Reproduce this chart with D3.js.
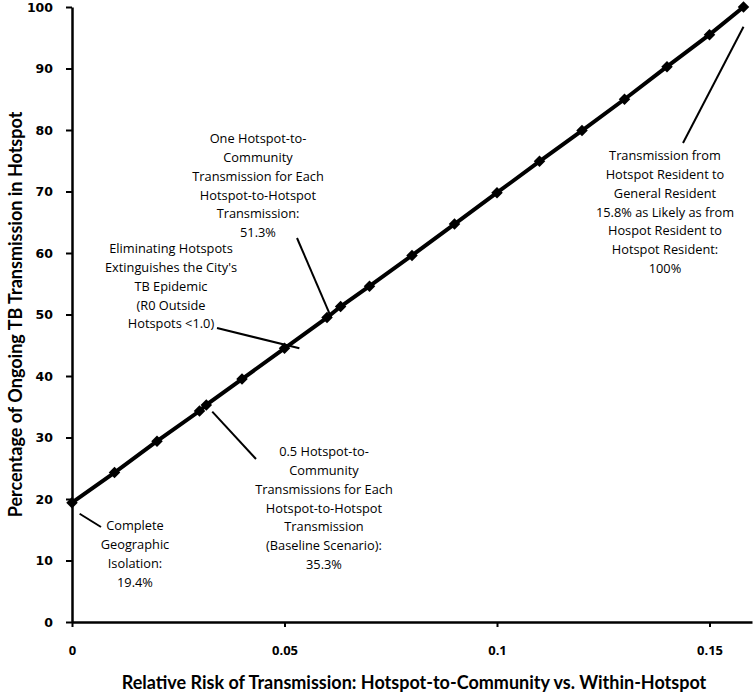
<!DOCTYPE html>
<html>
<head>
<meta charset="utf-8">
<script src="https://cdn.jsdelivr.net/npm/d3@7"></script>
<style>
  html, body { margin: 0; padding: 0; background: #fff; }
  svg { display: block; }
</style>
</head>
<body>
<svg id="chart" width="755" height="694"></svg>
<script>
// ---- data ----
const relRisk = [0, 0.01, 0.02, 0.03, 0.0316, 0.04, 0.05, 0.06, 0.0632, 0.07, 0.08, 0.09, 0.10, 0.11, 0.12, 0.13, 0.14, 0.15, 0.158];
const pctHotspot = [19.4, 24.3, 29.4, 34.3, 35.3, 39.5, 44.5, 49.5, 51.3, 54.6, 59.6, 64.7, 69.8, 74.9, 79.9, 85.0, 90.3, 95.5, 100];
const xTicks = [0, 0.05, 0.1, 0.15];
const xTickLabels = ["0", "0.05", "0.1", "0.15"];
const yTicks = [0, 10, 20, 30, 40, 50, 60, 70, 80, 90, 100];
const xTitle = "Relative Risk of Transmission: Hotspot-to-Community vs. Within-Hotspot";
const yTitle = "Percentage of Ongoing TB Transmission in Hotspot";

const annoLines = [
  ["One Hotspot-to-", "Community", "Transmission for Each", "Hotspot-to-Hotspot", "Transmission:", "51.3%"],
  ["Eliminating Hotspots", "Extinguishes the City's", "TB Epidemic", "(R0  Outside", "Hotspots <1.0)"],
  ["0.5 Hotspot-to-", "Community", "Transmissions for Each", "Hotspot-to-Hotspot", "Transmission", "(Baseline Scenario):", "35.3%"],
  ["Complete", "Geographic", "Isolation:", "19.4%"],
  ["Transmission from", "Hotspot Resident to", "General Resident", "15.8% as Likely as from", "Hospot Resident to", "Hotspot Resident:", "100%"]
];

// ---- layout ----
const svg = d3.select("#chart");
const x = d3.scaleLinear().domain([0, 0.16]).range([72, 752]);
const y = d3.scaleLinear().domain([0, 100]).range([622, 7]);

// y axis
const yAxis = svg.append("g").attr("transform", `translate(${x(0)},0)`)
  .call(d3.axisLeft(y).tickValues(yTicks).tickSize(6).tickSizeOuter(0).tickPadding(13));
yAxis.select(".domain").attr("stroke", "#000").attr("stroke-width", 2.5);
yAxis.selectAll(".tick line").attr("stroke", "#000").attr("stroke-width", 2);
yAxis.selectAll(".tick text").attr("font-family", "'DejaVu Sans', sans-serif")
  .attr("font-weight", "bold").attr("font-size", 12.5).attr("fill", "#000");

// x axis
const xAxis = svg.append("g").attr("transform", `translate(0,${y(0)})`)
  .call(d3.axisBottom(x).tickValues(xTicks).tickFormat((d, i) => xTickLabels[i])
    .tickSize(5).tickSizeOuter(0).tickPadding(19));
xAxis.select(".domain").attr("stroke", "#000").attr("stroke-width", 2.5);
xAxis.selectAll(".tick line").attr("stroke", "#000").attr("stroke-width", 2);
xAxis.selectAll(".tick text").attr("font-family", "'Open Sans', sans-serif")
  .attr("font-weight", "bold").attr("font-size", 13).attr("fill", "#000");

// titles
svg.append("text").attr("x", 414).attr("y", 689).attr("text-anchor", "middle")
  .attr("font-family", "Lato, sans-serif").attr("font-weight", "bold").attr("font-size", 18)
  .attr("fill", "#000").text(xTitle);
svg.append("text").attr("transform", `translate(22,${(y(0) + y(100)) / 2}) rotate(-90)`)
  .attr("text-anchor", "middle")
  .attr("font-family", "Lato, sans-serif").attr("font-weight", "bold").attr("font-size", 18)
  .attr("fill", "#000").text(yTitle);

// line
const pts = relRisk.map((r, i) => [r, pctHotspot[i]]);
svg.append("path").datum(pts)
  .attr("fill", "none").attr("stroke", "#000").attr("stroke-width", 4)
  .attr("d", d3.line().x(d => x(d[0])).y(d => y(d[1])));

// diamond markers
const diamond = d3.symbol().type(d3.symbolSquare).size(66);
svg.append("g").selectAll("path").data(pts).join("path")
  .attr("transform", d => `translate(${x(d[0])},${y(d[1])}) rotate(45)`)
  .attr("d", diamond).attr("fill", "#000");

// annotations
const annoPos = [
  { cx: 258, top: 140 },
  { cx: 171, top: 250 },
  { cx: 324, top: 453 },
  { cx: 135, top: 527 },
  { cx: 665, top: 157 }
];
const lineH = 18.7;
annoLines.forEach((lines, k) => {
  const t = svg.append("text").attr("text-anchor", "middle")
    .attr("font-family", "'Open Sans', sans-serif").attr("font-size", 12.8).attr("fill", "#000");
  lines.forEach((s, j) => {
    t.append("tspan").attr("x", annoPos[k].cx).attr("y", annoPos[k].top + j * lineH)
      .attr("dominant-baseline", "middle").text(s);
  });
});

// leader lines
const leaders = [
  { from: [297, 238], to: [0.0610, 49.5] },
  { from: [217, 328], to: [0.0535, 44.5] },
  { from: [256, 459], to: [0.0330, 34.2] },
  { from: [101, 527], to: [0.0018, 17.6] },
  { from: [683, 143], to: [0.1580, 96.8] }
];
svg.append("g").selectAll("line").data(leaders).join("line")
  .attr("x1", d => d.from[0]).attr("y1", d => d.from[1])
  .attr("x2", d => x(d.to[0])).attr("y2", d => y(d.to[1]))
  .attr("stroke", "#000").attr("stroke-width", 2);
</script>
</body>
</html>
